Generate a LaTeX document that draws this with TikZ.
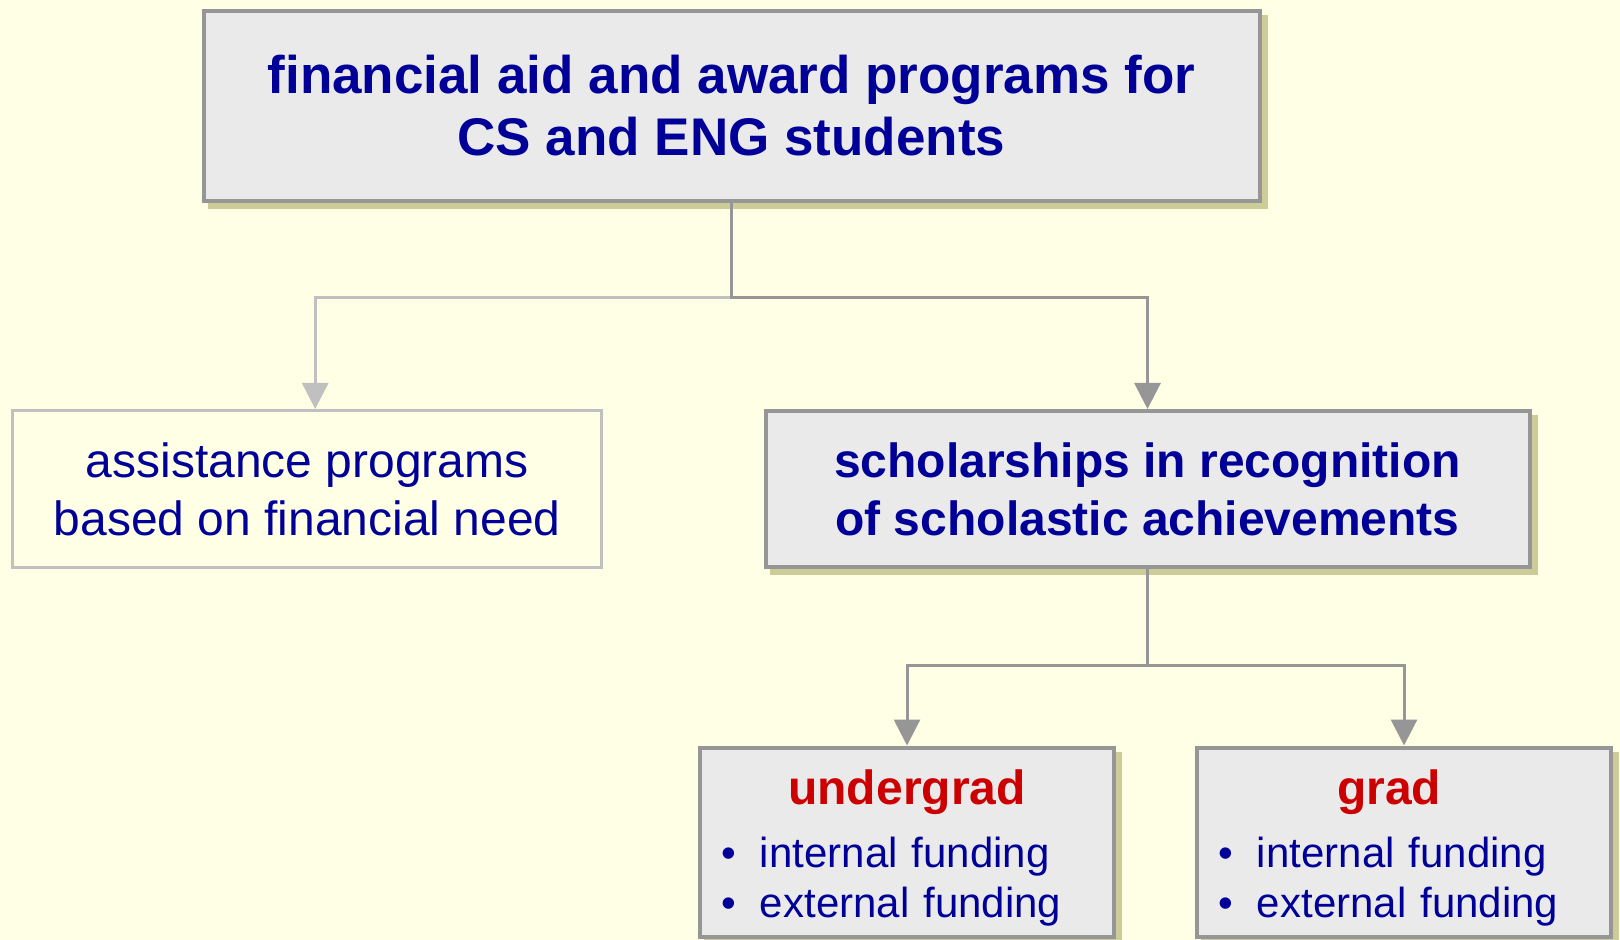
\documentclass[tikz,border=0pt]{standalone}
\usepackage{fontspec}
\setmainfont{Liberation Sans}
\usetikzlibrary{arrows.meta, positioning}

\definecolor{bgivory}{HTML}{FFFFE5}
\definecolor{textblue}{HTML}{000099}
\definecolor{headred}{HTML}{CC0000}
\definecolor{boxgray}{HTML}{EAEAEA}
\definecolor{edgegray}{HTML}{969696}
\definecolor{palegray}{HTML}{C0C0C0}
\definecolor{shadekhaki}{HTML}{CCCC99}

\newcommand{\fundbullet}{\makebox[19.5pt][l]{\textbullet}}
\newcommand{\fundhead}[2][0pt]{{\centering
  \fontsize{24}{29}\selectfont\bfseries\rule{0pt}{22.7pt}%
  \textcolor{headred}{#2}\hspace*{#1}\par}\vspace{6.5pt}}

\begin{document}
\begin{tikzpicture}[
    card/.style={rectangle, draw=edgegray, line width=2pt, fill=boxgray,
      inner sep=0pt, align=center, text=textblue,
      preaction={draw=shadekhaki, fill=shadekhaki, line width=2pt,
        transform canvas={shift={(3pt,-3pt)}}}},
    topcard/.style={card, minimum width=528pt, minimum height=95pt,
      font=\fontsize{26.5}{31}\selectfont\bfseries},
    schcard/.style={card, minimum width=382pt, minimum height=78pt,
      font=\fontsize{24}{29}\selectfont\bfseries},
    needcard/.style={rectangle, draw=palegray, line width=1.5pt, inner sep=0pt,
      minimum width=294.7pt, minimum height=78.5pt, align=center,
      text=textblue, font=\fontsize{24}{29}\selectfont},
    fundcard/.style={card, minimum width=207pt, minimum height=94.75pt,
      text width=186pt, inner xsep=10.5pt, align=left,
      font=\fontsize{21}{25}\selectfont},
    link/.style={-{Triangle[length=13pt, width=13pt]}, line width=1.5pt,
      edgegray},
    palelink/.style={link, palegray}
  ]
    \path[use as bounding box, fill=bgivory] (0,0) rectangle (810pt,-470pt);

    \node[topcard] (top) at (365.75pt,-53pt)
      {financial aid and award programs for\\CS and ENG students};
    \node[schcard, below=103pt of top.south east, anchor=north east,
      xshift=135pt] (sch)
      {scholarships in recognition\\of scholastic achievements};
    \node[needcard, below=103pt of top.south west, anchor=north west,
      xshift=-95.25pt] (need)
      {assistance programs\\based on financial need};
    \node[fundcard, below=88.25pt of sch.south west, anchor=north west,
      xshift=-32.75pt] (ugrad)
      {\fundhead{undergrad}\fundbullet internal funding\\
       \fundbullet external funding};
    \node[fundcard, right=39.5pt of ugrad] (grad)
      {\fundhead[15pt]{grad}\fundbullet internal funding\\
       \fundbullet external funding};

    \coordinate[below=47.15pt of top.south] (topfork);
    \coordinate[below=48pt of sch.south] (schfork);

    \draw[palelink] (topfork) -| ([xshift=4pt]need.north);
    \draw[link] (top.south) -- (topfork) -| (sch.north);
    \draw[link] (sch.south) -- (schfork) -| (ugrad.north);
    \draw[link] (schfork) -| (grad.north);
  \end{tikzpicture}
\end{document}
